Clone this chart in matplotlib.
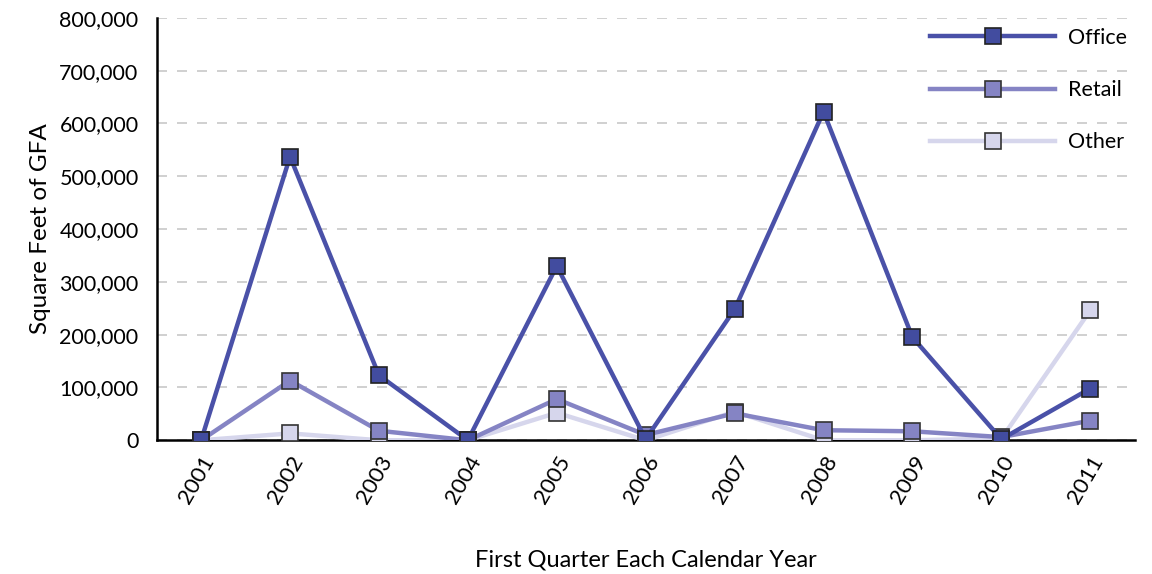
import numpy as np
import matplotlib.pyplot as plt
from matplotlib.ticker import FuncFormatter

plt.rcParams['font.family'] = ['Lato', 'DejaVu Sans']

# dane
years = [2001, 2002, 2003, 2004, 2005, 2006, 2007, 2008, 2009, 2010, 2011]
office = [0, 537000, 123000, 0, 330000, 2000, 248000, 622000, 195000, 2000, 98000]
retail = [0, 113000, 18000, 0, 78000, 10000, 51000, 19000, 17000, 6000, 37000]
other = [0, 13000, 0, 0, 52000, 0, 54000, 0, 0, 3000, 246000]

fig = plt.figure(figsize=(11.52, 5.74), dpi=100)
ax = fig.add_axes([0.136, 0.233, 0.849, 0.736])

x = np.arange(len(years))
ax.plot(x, other, '-s', color='#d6d6ec', lw=3.2, ms=11, mfc='#d6d6ec', mec='#333333', mew=1.2,
        label='Other', zorder=3)
ax.plot(x, retail, '-s', color='#8584c4', lw=3.2, ms=11, mfc='#8584c4', mec='#333333', mew=1.2,
        label='Retail', zorder=4)
ax.plot(x, office, '-s', color='#4a51a8', lw=3.2, ms=11, mfc='#424c9f', mec='#222222', mew=1.2,
        label='Office', zorder=5)

ax.set_xlim(-0.5, len(years) - 0.5)
ax.set_ylim(0, 800000)
ax.set_yticks(np.arange(0, 800001, 100000))
ax.yaxis.set_major_formatter(FuncFormatter(lambda v, p: '{:,.0f}'.format(v)))
ax.set_xticks(x)
ax.set_xticklabels([str(y) for y in years], rotation=60, ha='right', rotation_mode='anchor')
ax.tick_params(axis='y', length=0, labelsize=15.5, pad=13)
ax.tick_params(axis='x', length=0, labelsize=16, pad=9)

ax.grid(axis='y', color='#c8c8c8', ls=(0, (6, 6)), lw=1.2)
ax.set_axisbelow(True)
for s in ['top', 'right']:
    ax.spines[s].set_visible(False)
ax.spines['left'].set_linewidth(1.8)
ax.spines['bottom'].set_linewidth(1.8)

ax.set_ylabel('Square Feet of GFA', fontsize=17.5, labelpad=6)
ax.set_xlabel('First Quarter Each Calendar Year', fontsize=17, labelpad=30)

h, l = ax.get_legend_handles_labels()
ax.legend(h[::-1], l[::-1], loc='upper right', frameon=False, fontsize=15.5,
          handlelength=5.8, handletextpad=0.6, labelspacing=1.5,
          bbox_to_anchor=(1.012, 1.022))

plt.savefig('out.png', dpi=100)
